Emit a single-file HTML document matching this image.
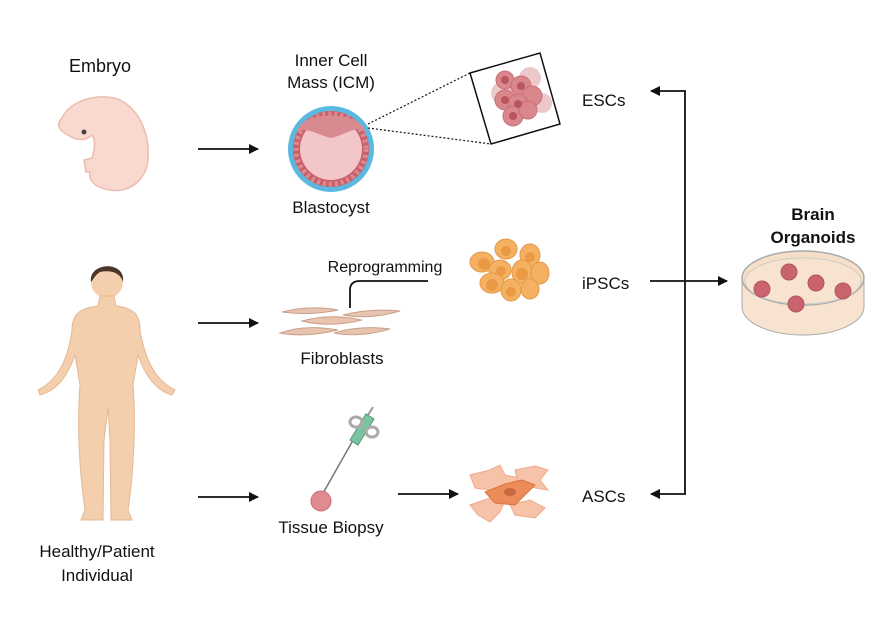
<!DOCTYPE html>
<html><head><meta charset="utf-8"><style>
html,body{margin:0;padding:0;background:#fff;}
svg{display:block;}
text{font-family:"Liberation Sans",Arial,sans-serif;fill:#111;}
</style></head><body>
<svg width="886" height="622" viewBox="0 0 886 622" xmlns="http://www.w3.org/2000/svg">
<defs>
<marker id="ah" markerWidth="10" markerHeight="10" refX="9" refY="5" orient="auto" markerUnits="userSpaceOnUse">
<path d="M0,0 L10,5 L0,10 z" fill="#111"/></marker>
</defs>
<rect width="886" height="622" fill="#fff"/>

<!-- Embryo -->
<text x="100" y="72" font-size="18" text-anchor="middle">Embryo</text>
<path d="M62,118 C70,100 100,92 120,100 C140,110 150,135 148,160 C146,180 130,193 110,190 C95,188 88,180 90,172 L86,172 L84,160 L92,158 C95,148 96,140 92,135 C85,142 75,140 68,135 C58,130 56,124 62,118 z" fill="#f8d8cf" stroke="#ecbcae" stroke-width="1.5"/>
<circle cx="84" cy="132" r="2.5" fill="#444"/>

<!-- Blastocyst -->
<text x="331" y="66" font-size="17" text-anchor="middle">Inner Cell</text>
<text x="331" y="88" font-size="17" text-anchor="middle">Mass (ICM)</text>
<circle cx="331" cy="149" r="43" fill="#5bb8df"/>
<circle cx="331" cy="149" r="38" fill="#c95f68"/>
<circle cx="331" cy="149" r="35" fill="none" stroke="#dc8a90" stroke-width="5" stroke-dasharray="3,3"/>
<circle cx="331" cy="149" r="31" fill="#f3c7c9"/>
<path d="M297,132 C300,110 362,110 365,132 C355,125 345,135 331,138 C318,135 305,126 297,132 z" fill="#d98a90"/>
<text x="331" y="213" font-size="17" text-anchor="middle">Blastocyst</text>

<line x1="368" y1="124" x2="470" y2="73" stroke="#222" stroke-width="1.3" stroke-dasharray="2,2"/>
<line x1="368" y1="128" x2="491" y2="144" stroke="#222" stroke-width="1.3" stroke-dasharray="2,2"/>
<polygon points="470,73 540,53 560,124 491,144" fill="#fff" stroke="#111" stroke-width="1.5"/>
<g fill="#e0a5a8" opacity="0.6"><circle cx="530" cy="78" r="11"/><circle cx="502" cy="93" r="11"/><circle cx="542" cy="103" r="10"/></g>
<g fill="#d9868c" stroke="#c87076" stroke-width="1"><circle cx="505" cy="80" r="9"/><circle cx="521" cy="86" r="10"/><circle cx="532" cy="96" r="10"/><circle cx="505" cy="100" r="10"/><circle cx="518" cy="104" r="10"/><circle cx="513" cy="116" r="10"/><circle cx="528" cy="110" r="9"/></g>
<g fill="#b8565e"><circle cx="505" cy="80" r="4"/><circle cx="521" cy="86" r="4"/><circle cx="518" cy="104" r="4"/><circle cx="513" cy="116" r="4"/><circle cx="505" cy="100" r="4"/></g>

<!-- Human -->
<circle cx="107" cy="282" r="16" fill="#f3cfae"/>
<path d="M91,282 C88,262 126,260 123,282 C120,272 110,270 100,272 C95,275 93,280 91,282 z" fill="#4a3528"/>
<path d="M100,296 L114,296 L116,306 C135,308 140,316 140,330 C145,360 155,380 175,390 L172,395 C155,390 145,375 138,355 L133,385 C136,420 134,470 128,510 L132,520 L111,520 L110,440 L108,408 L104,440 L103,520 L81,520 L85,510 C79,470 77,420 80,385 L75,355 C68,375 58,390 40,395 L38,390 C58,380 68,360 72,330 C72,316 78,308 98,306 z" fill="#f3cfae" stroke="#e4b893" stroke-width="1"/>
<text x="97" y="557" font-size="17" text-anchor="middle">Healthy/Patient</text>
<text x="97" y="581" font-size="17" text-anchor="middle">Individual</text>

<!-- arrows -->
<line x1="198" y1="149" x2="258" y2="149" stroke="#111" stroke-width="1.8" marker-end="url(#ah)"/>
<line x1="198" y1="323" x2="258" y2="323" stroke="#111" stroke-width="1.8" marker-end="url(#ah)"/>
<line x1="198" y1="497" x2="258" y2="497" stroke="#111" stroke-width="1.8" marker-end="url(#ah)"/>
<line x1="398" y1="494" x2="458" y2="494" stroke="#111" stroke-width="1.8" marker-end="url(#ah)"/>

<!-- Fibroblasts -->
<text x="385" y="272" font-size="16" text-anchor="middle">Reprogramming</text>
<path d="M350,308 L350,290 Q350,281 360,281 L428,281" fill="none" stroke="#111" stroke-width="1.8"/>
<g fill="#e8c4b0" stroke="#c9a08a" stroke-width="1">
<path d="M282,312 Q310,305 338,310 Q310,316 282,312z"/>
<path d="M343,315 Q370,308 400,311 Q370,320 343,315z"/>
<path d="M302,321 Q330,313 362,320 Q330,328 302,321z"/>
<path d="M280,333 Q305,324 338,330 Q305,338 280,333z"/>
<path d="M334,333 Q360,325 390,329 Q360,338 334,333z"/>
</g>
<text x="342" y="364" font-size="17" text-anchor="middle">Fibroblasts</text>

<!-- iPSC cluster -->
<g fill="#f5b062" stroke="#e19a48" stroke-width="1">
<ellipse cx="482" cy="262" rx="12" ry="10"/><ellipse cx="506" cy="249" rx="11" ry="10"/><ellipse cx="530" cy="255" rx="10" ry="11"/>
<ellipse cx="500" cy="270" rx="11" ry="10"/><ellipse cx="522" cy="272" rx="10" ry="12"/><ellipse cx="540" cy="273" rx="9" ry="11"/>
<ellipse cx="492" cy="283" rx="12" ry="10"/><ellipse cx="511" cy="290" rx="10" ry="11"/><ellipse cx="530" cy="289" rx="9" ry="10"/>
</g>
<g fill="#ea9a45"><circle cx="484" cy="264" r="6"/><circle cx="506" cy="251" r="5"/><circle cx="530" cy="257" r="5"/><circle cx="501" cy="271" r="5"/><circle cx="522" cy="274" r="6"/><circle cx="492" cy="285" r="6"/><circle cx="511" cy="292" r="5"/></g>

<!-- Syringe -->
<line x1="356" y1="435" x2="322" y2="495" stroke="#777" stroke-width="1.5"/>
<path d="M350,440 L366,414 L374,419 L358,445 z" fill="#7cc3a2" stroke="#4d9a7a" stroke-width="1"/>
<ellipse cx="356" cy="422" rx="6" ry="5" fill="none" stroke="#aaa" stroke-width="3"/>
<ellipse cx="372" cy="432" rx="6" ry="5" fill="none" stroke="#aaa" stroke-width="3"/>
<line x1="368" y1="415" x2="373" y2="407" stroke="#999" stroke-width="2"/>
<circle cx="321" cy="501" r="10" fill="#e08a92" stroke="#c86a72" stroke-width="1"/>
<text x="331" y="533" font-size="17" text-anchor="middle">Tissue Biopsy</text>

<!-- ASC cluster -->
<g fill="#f6c3a8" stroke="#f0a88a" stroke-width="1">
<path d="M470,475 L490,470 L500,465 L505,475 L520,478 L505,487 L490,490 L475,488z"/>
<path d="M515,470 L535,466 L548,470 L540,480 L548,490 L530,487 L518,482z"/>
<path d="M470,505 L490,498 L505,500 L500,512 L490,522 L478,515z"/>
<path d="M510,505 L530,500 L545,508 L535,518 L515,515z"/>
</g>
<path d="M485,492 L505,484 L522,480 L535,485 L525,495 L515,505 L495,503z" fill="#ec8c5b" stroke="#d9733f" stroke-width="1"/>
<ellipse cx="510" cy="492" rx="6" ry="4" fill="#c86a40"/>

<!-- right side -->
<text x="582" y="106" font-size="17">ESCs</text>
<text x="582" y="289" font-size="17">iPSCs</text>
<text x="582" y="502" font-size="17">ASCs</text>
<polyline points="685,91 685,494" fill="none" stroke="#111" stroke-width="1.8"/>
<line x1="686" y1="91" x2="651" y2="91" stroke="#111" stroke-width="1.8" marker-end="url(#ah)"/>
<line x1="686" y1="494" x2="651" y2="494" stroke="#111" stroke-width="1.8" marker-end="url(#ah)"/>
<line x1="650" y1="281" x2="727" y2="281" stroke="#111" stroke-width="1.8" marker-end="url(#ah)"/>

<text x="813" y="220" font-size="17" font-weight="bold" text-anchor="middle">Brain</text>
<text x="813" y="243" font-size="17" font-weight="bold" text-anchor="middle">Organoids</text>
<path d="M742,278 L742,307 A61,28 0 0 0 864,307 L864,278 z" fill="#f7e3cf" stroke="#aaa" stroke-width="1"/>
<ellipse cx="803" cy="278" rx="61" ry="27" fill="#f5dfc8" stroke="#aaa" stroke-width="1.5"/>
<ellipse cx="803" cy="281" rx="58" ry="23" fill="#f7e3cf" stroke="#ccc" stroke-width="1"/>
<g fill="#c9646e" stroke="#b55560" stroke-width="1">
<circle cx="789" cy="272" r="8"/><circle cx="762" cy="289" r="8"/><circle cx="816" cy="283" r="8"/><circle cx="843" cy="291" r="8"/><circle cx="796" cy="304" r="8"/>
</g>
</svg>
</body></html>
